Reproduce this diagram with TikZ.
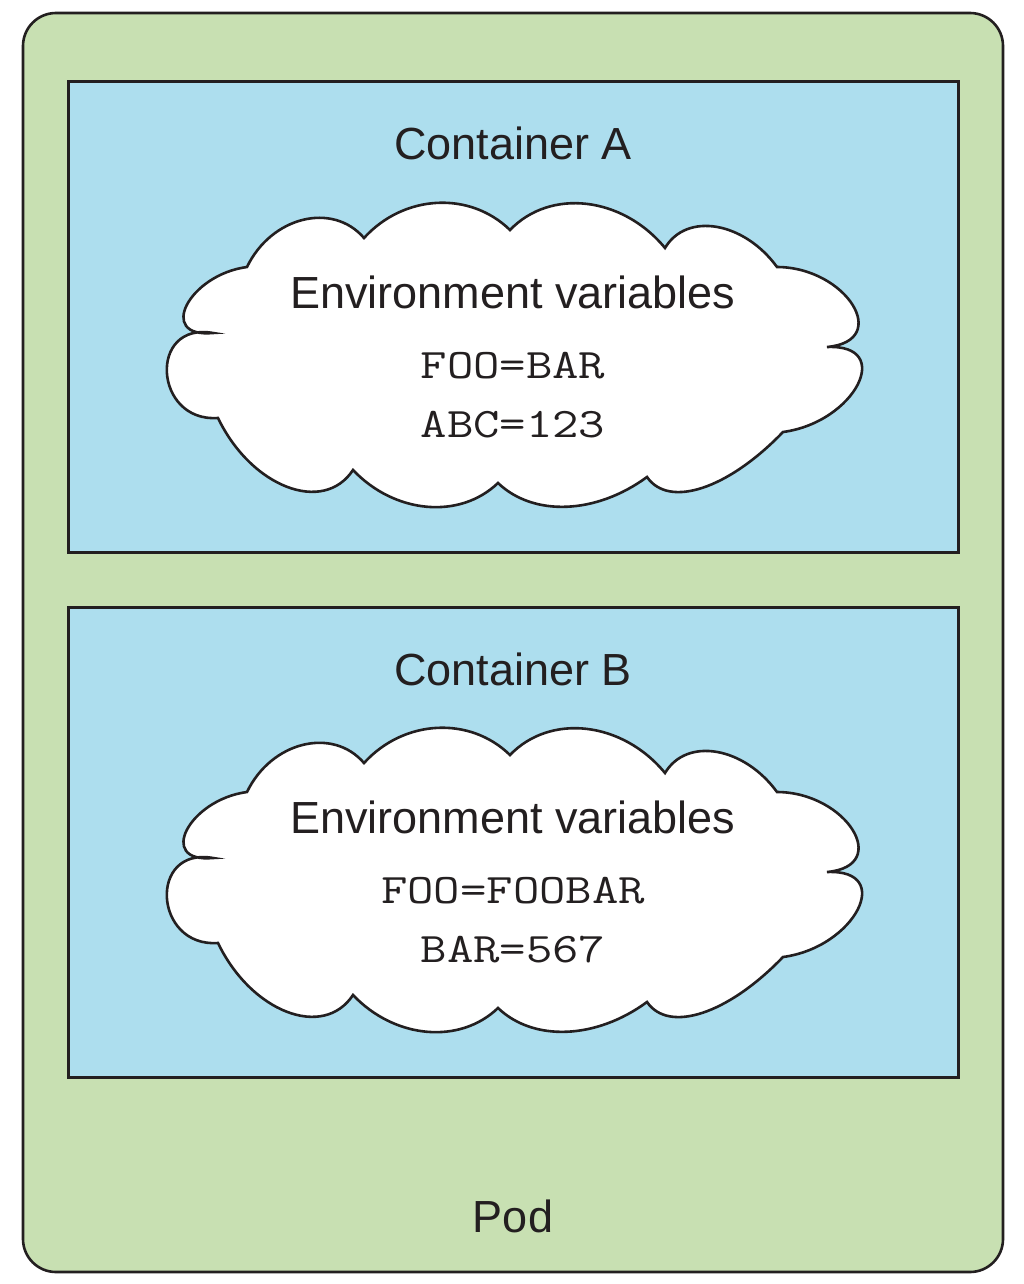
\documentclass[tikz,border=0pt]{standalone}
\usepackage{fontspec}
\setmainfont{Liberation Sans}
\newfontfamily\codefont[FakeStretch=1.22]{Latin Modern Mono}
\usetikzlibrary{calc}

\definecolor{podgreen}{HTML}{C8E0B2}
\definecolor{boxblue}{HTML}{ADDEEE}
\definecolor{ink}{HTML}{231F20}

% one puff of a cloud: from #1 through the crest #2 to #3,
% #4 and #5 set how far the puff swells past its ends
\newcommand\puff[5]{.. controls ($#4*(#1)+1.3333*(#2)-#5*(#3)$) and ($#4*(#3)+1.3333*(#2)-#5*(#1)$) .. (#3)}
\newcommand\cloudoutline{(247,267)
  \puff{247,267}{303,220}{364,238}{0.095}{0.429}
  \puff{364,238}{437,203}{510,230}{0.059}{0.393}
  \puff{510,230}{587,204}{665,248}{0.066}{0.400}
  \puff{665,248}{717,227}{777,267}{0.089}{0.423}
  \puff{777,267}{853,305}{827,347}{0.294}{0.628}
  \puff{827,347}{858,385}{783,432}{0.294}{0.628}
  \puff{783,432}{703,488}{647,477}{0.051}{0.385}
  \puff{647,477}{567,507}{498,483}{0.043}{0.377}
  \puff{498,483}{427,507}{353,470}{0.057}{0.391}
  \puff{353,470}{287,487}{218,418}{0.100}{0.434}
  \puff{218,418}{167,373}{213,333}{0.429}{0.763}
  \puff{213,333}{187,305}{247,267}{0.313}{0.647} -- cycle}

\tikzset{
  podbox/.style={draw=ink, line width=2.6pt, fill=podgreen, rounded corners=33pt,
    minimum width=980pt, minimum height=1259pt, inner sep=0pt},
  containerbox/.style={draw=ink, line width=3pt, fill=boxblue,
    minimum width=890pt, minimum height=470pt, inner sep=0pt},
  cloudline/.style={draw=ink, line width=2.6pt, fill=white, line join=miter},
  lbl/.style={text=ink, font=\fontsize{45}{54}\selectfont, anchor=base, inner sep=0pt},
  code/.style={text=ink, font=\codefont\fontsize{42}{50}\selectfont, anchor=base, inner sep=0pt},
}

\begin{document}
\begin{tikzpicture}[x=1pt, y=-1pt]
  \useasboundingbox (0,0) rectangle (1024,1284);

  % pod and its two containers
  \node[podbox] (pod) at (513,642.5) {};
  \node[containerbox] (boxA) at (513,317) {};
  \node[containerbox] (boxB) at (513,842) {};

  % environment clouds
  \draw[cloudline] \cloudoutline;
  \begin{scope}[shift={(0,525)}]
    \draw[cloudline] \cloudoutline;
  \end{scope}

  % container A
  \node[lbl] (titleA) at (513,160) {Container A};
  \node[lbl] (envA) at (513,308) {Environment variables};
  \node[code] (varA1) at (513,378) {FOO=BAR};
  \node[code] (varA2) at (513,437) {ABC=123};

  % container B
  \node[lbl] (titleB) at (513,685) {Container B};
  \node[lbl] (envB) at (513,833) {Environment variables};
  \node[code] (varB1) at (513,903) {FOO=FOOBAR};
  \node[code] (varB2) at (513,962) {BAR=567};

  \node[lbl] (podlabel) at (513,1232) {Pod};
\end{tikzpicture}
\end{document}
